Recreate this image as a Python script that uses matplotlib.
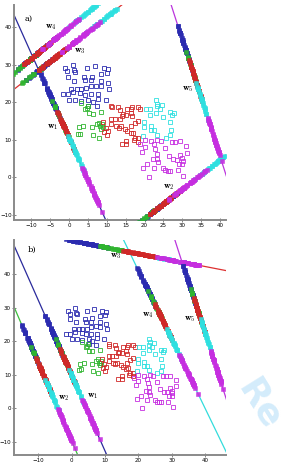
import numpy as np
import matplotlib
matplotlib.use("Agg")
import matplotlib.pyplot as plt

plt.rcParams['mathtext.fontset'] = 'cm'

# ---------------- scatter data (same in both panels) ----------------
blue_x = [-1.1, 1.1, -0.5, 1.3, 4.7, 6.8, 9.2, 10.4, 10.1, -0.4, 3.9, 6.1, 8.4, 1.4, 4.3, 5.9, 8.4, 10.3,
          0.6, 2.1, 3.2, 4.6, 5.8, 7.2, 8.4, 10.6, -1.6, -0.4, 1.0, 3.0, 4.3, 5.8, 7.7, 0.0, 1.6, 3.2,
          5.1, 6.2, 7.6, 9.7, 5.1, 7.3, 1.5]
blue_y = [29.1, 29.8, 28.2, 28.5, 29.0, 29.7, 29.0, 28.8, 27.8, 26.6, 26.7, 26.8, 27.4, 25.7, 25.8, 25.8, 25.6, 25.1,
          23.6, 23.5, 23.5, 23.7, 24.3, 24.4, 24.3, 23.5, 22.2, 22.2, 22.7, 22.5, 22.0, 22.2, 22.2, 20.5, 20.5, 20.4,
          20.7, 20.0, 20.9, 20.5, 19.1, 18.9, 28.0]
green_x = [3.1, 4.7, 4.3, 5.3, 6.2, 8.4, 2.5, 3.7, 2.3, 2.8, 6.0, 7.4, 8.2, 8.7, 8.4, 6.3, 7.9, 8.9, 7.9, 5.0]
green_y = [19.8, 18.5, 18.3, 17.0, 16.9, 17.4, 13.3, 13.6, 11.5, 11.6, 13.3, 14.2, 13.6, 14.1, 13.0, 11.2, 10.4, 13.5, 14.6, 19.0]
red_x = [11.1, 11.3, 13.0, 13.4, 15.4, 16.8, 16.5, 18.3, 18.9, 14.3, 15.0, 13.9, 16.3, 16.6, 11.1, 12.2, 13.4, 17.6,
         18.3, 9.1, 11.2, 9.7, 10.2, 10.0, 9.3, 12.4, 13.7, 14.8, 15.4, 13.1, 16.5, 17.0, 17.4, 18.3, 17.2, 18.3,
         13.9, 15.1, 15.0, 16.4]
red_y = [19.1, 18.6, 18.8, 17.9, 18.3, 18.8, 18.1, 18.8, 18.3, 16.8, 16.5, 16.3, 17.0, 16.2, 15.6, 15.6, 15.5, 14.5,
         14.9, 14.7, 14.2, 13.2, 12.4, 11.2, 12.1, 13.6, 13.6, 12.9, 12.4, 13.2, 13.6, 11.9, 10.6, 10.5, 9.9, 9.5,
         8.8, 8.8, 9.7, 11.7]
cyan_x = [20.3, 21.4, 23.1, 23.4, 23.2, 24.6, 24.0, 21.5, 23.1, 24.8, 26.7, 27.7, 27.3, 26.8, 19.8, 19.8, 21.8, 22.6,
          21.8, 27.0, 26.7, 23.2, 25.6, 19.6]
cyan_y = [18.3, 18.3, 20.5, 19.6, 18.9, 19.3, 18.3, 16.5, 17.2, 16.1, 17.3, 17.2, 16.6, 14.8, 14.8, 13.5, 12.7, 12.7,
          13.8, 12.6, 11.2, 11.4, 10.5, 11.1]
mag_x = [18.8, 20.0, 20.0, 19.4, 21.8, 22.5, 23.4, 24.4, 22.8, 23.3, 25.5, 27.3, 28.2, 29.3, 31.1, 31.2, 26.4, 27.5,
         28.6, 29.5, 29.9, 30.1, 29.1, 29.9, 20.7, 23.3, 23.5, 22.3, 19.6, 24.9, 25.5, 26.1, 26.8, 28.9, 30.2, 21.2, 22.5]
mag_y = [9.0, 9.9, 8.1, 6.8, 9.6, 8.8, 9.9, 9.7, 7.5, 6.3, 7.9, 9.5, 9.5, 9.7, 8.4, 6.6, 5.8, 4.8,
         4.7, 6.0, 5.1, 4.5, 3.7, 3.5, 3.7, 4.8, 4.0, 5.0, 2.6, 2.5, 1.9, 1.8, 1.7, 1.9, 0.5, 0.2, 2.4]

clusters = [(blue_x, blue_y), (green_x, green_y), (red_x, red_y), (cyan_x, cyan_y), (mag_x, mag_y)]
cluster_colors = ['#2b2bb0', '#2fb52f', '#d02828', '#2ee0e0', '#c62ee0']

# ---------------- projection lines ----------------
# each line: start point, end point (data coords, edge to edge) and the
# position along the line (distance from start) of each class's projected mean
# (order: blue, green, red, cyan, magenta)
a_line_names = ['1', '2', '3', '4', '5']
a_line_start = [(-14.4, 42.7), (19.4, -11.3), (-14.4, 23.6), (-14.47, 28.0), (27.3, 45.1)]
a_line_end = [(9.7, -11.3), (41.75, 6.1), (13.0, 45.1), (6.2, 45.1), (41.75, 0.2)]
a_line_targets = [[23.3, 30.2, 33.3, 39.3, 50.0],
                  [5.4, 2.5, 8.0, 23.5, 15.4],
                  [10.0, 7.3, 13.5, 30.2, 22.3],
                  [7.3, 3.7, 8.6, 24.5, 16.1],
                  [11.25, 18.0, 20.1, 25.9, 36.4]]
a_label_pos = [(-4.3, 13.3), (26.4, -2.7), (2.9, 33.6), (-4.7, 39.8), (31.5, 23.4)]

b_line_names = ['1', '2', '3', '4', '5']
b_line_start = [(-17.3, 48.6), (-17.3, 30.3), (0.8, 49.8), (15.7, 49.8), (31.0, 49.8)]
b_line_end = [(10.5, -13.9), (1.8, -13.9), (46.2, 41.0), (46.2, -12.9), (46.2, 3.0)]
b_line_targets = [[29.6, 36.5, 39.7, 45.6, 56.5],
                  [12.7, 19.0, 22.4, 28.5, 39.4],
                  [4.1, 11.4, 20.2, 29.6, 32.3],
                  [15.6, 22.3, 26.6, 33.9, 43.9],
                  [14.1, 20.6, 23.4, 29.4, 40.0]]
b_label_pos = [(6.2, 3.5), (-2.2, 3.0), (13.2, 45.2), (22.9, 27.6), (35.3, 26.6)]

line_colors = ['#2a2a9c', '#3cbf3c', '#dd3030', '#33dcdc', '#bb35dd']

a_xticks = [-10, -5, 0, 5, 10, 15, 20, 25, 30, 35, 40]
a_yticks = [-10, 0, 10, 20, 30, 40]
b_xticks = [-10, 0, 10, 20, 30, 40]
b_yticks = [-10, 0, 10, 20, 30, 40]


def draw_panel(ax, starts, ends, targets, names, label_pos, xlim, ylim, xticks, yticks, tag, tag_pos):
    for i in range(len(starts)):
        p0 = np.array(starts[i], float)
        p1 = np.array(ends[i], float)
        L = np.linalg.norm(p1 - p0)
        u = (p1 - p0) / L
        t = np.array([-30.0, L + 30.0])
        ax.plot(p0[0] + t * u[0], p0[1] + t * u[1], '-', color=line_colors[i], lw=0.9, zorder=2)
        for k, ((cx, cy), col) in enumerate(zip(clusters, cluster_colors)):
            cx = np.asarray(cx, float); cy = np.asarray(cy, float)
            # projected position: class position on the line + orthogonal spread of the class
            s = targets[i][k] + (cx - cx.mean()) * u[0] + (cy - cy.mean()) * u[1]
            ax.plot(p0[0] + s * u[0], p0[1] + s * u[1], 's', ms=3.1, color=col,
                    mec=col, mew=0.4, alpha=0.9, zorder=3)
        ax.text(label_pos[i][0], label_pos[i][1], r'$\mathbf{w}_{%s}$' % names[i],
                fontsize=6.5, ha='center', va='center', zorder=5)
    for (cx, cy), col in zip(clusters, cluster_colors):
        ax.plot(cx, cy, 's', ms=2.3, mfc='none', mec=col, mew=0.6, zorder=4)
    ax.text(tag_pos[0], tag_pos[1], tag, fontsize=6, family='DejaVu Serif', ha='left', va='center')
    ax.set_xlim(*xlim)
    ax.set_ylim(*ylim)
    ax.set_xticks(xticks)
    ax.set_yticks(yticks)
    for sp in ['top', 'right']:
        ax.spines[sp].set_visible(False)
    for sp in ['left', 'bottom']:
        ax.spines[sp].set_color('#8a8a8a')
        ax.spines[sp].set_linewidth(1.4)
    ax.tick_params(direction='inout', length=2.5, width=0.5, color='#555555',
                   labelsize=4.0, pad=0.8)


fig = plt.figure(figsize=(2.89, 4.67), dpi=100)
ax1 = fig.add_axes([0.05, 0.529, 0.732, 0.46])
ax2 = fig.add_axes([0.048, 0.026, 0.734, 0.46])

draw_panel(ax1, a_line_start, a_line_end, a_line_targets, a_line_names, a_label_pos,
           (-14.5, 41.6), (-11.3, 45.8), a_xticks, a_yticks, 'a)', (-11.8, 42.2))
draw_panel(ax2, b_line_start, b_line_end, b_line_targets, b_line_names, b_label_pos,
           (-17.3, 46.2), (-13.9, 50.1), b_xticks, b_yticks, 'b)', (-13.3, 47.1))

fig.text(0.80, 0.20, 'Re', rotation=-58, color='#d4ecfb', fontsize=26, fontweight='bold',
         ha='left', va='top', zorder=0)

fig.savefig('out.png', dpi=100)
